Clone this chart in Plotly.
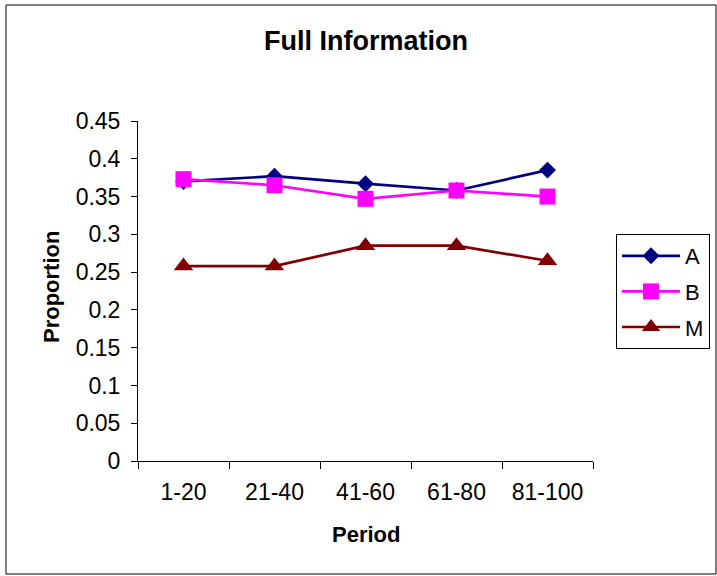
import plotly.graph_objects as go

periods = ["1-20", "21-40", "41-60", "61-80", "81-100"]
series_a = [0.370, 0.377, 0.367, 0.358, 0.385]
series_b = [0.373, 0.365, 0.347, 0.358, 0.350]
series_m = [0.258, 0.258, 0.285, 0.285, 0.265]
y_ticks = [0, 0.05, 0.1, 0.15, 0.2, 0.25, 0.3, 0.35, 0.4, 0.45]
y_tick_labels = ["0", "0.05", "0.1", "0.15", "0.2", "0.25", "0.3", "0.35", "0.4", "0.45"]

FONT = "Liberation Sans, Arial, sans-serif"

# plot area in pixels
L, R, T, B = 138, 593, 121, 461
W, H = 717, 576
PW, PH = R - L, B - T

def px(x):
    return (x - L) / PW

def py(y):
    return (B - y) / PH

fig = go.Figure()
fig.add_trace(go.Scatter(x=periods, y=series_a, name="A", mode="lines+markers",
                         legendgroup="a",
                         line=dict(color="#000080", width=2.7),
                         marker=dict(symbol="diamond", size=13, color="#000080")))
fig.add_trace(go.Scatter(x=periods, y=series_b, name="B", mode="lines+markers",
                         legendgroup="b",
                         line=dict(color="#FF00FF", width=2.7),
                         marker=dict(symbol="square", size=16, color="#FF00FF")))
fig.add_trace(go.Scatter(x=periods, y=series_m, name="M", mode="lines+markers",
                         legendgroup="m",
                         line=dict(color="#800000", width=2.7),
                         marker=dict(symbol="triangle-up", size=17, color="#800000")))

fig.update_layout(
    width=W, height=H,
    margin=dict(l=L, r=W - R, t=T, b=H - B, autoexpand=False),
    paper_bgcolor="white", plot_bgcolor="white",
    font=dict(family=FONT, size=22, color="black"),
    title=dict(text="<b>Full Information</b>", x=366 / W, xanchor="center",
               xref="container", yref="container",
               y=1 - 41 / H, yanchor="middle", font=dict(size=27, family=FONT)),
    legend=dict(x=px(616), y=py(234), xanchor="left", yanchor="top",
                bordercolor="black", borderwidth=1, bgcolor="white",
                font=dict(size=22, family=FONT), tracegroupgap=4,
                itemwidth=58),
    showlegend=True,
    shapes=[dict(type="rect", xref="paper", yref="paper",
                 x0=px(6), x1=px(716), y0=py(574), y1=py(5),
                 line=dict(color="black", width=1))],
    annotations=[
        dict(text="<b>Period</b>", xref="paper", yref="paper",
             x=px(366), y=py(534), xanchor="center", yanchor="middle",
             showarrow=False, font=dict(size=22, family=FONT)),
        dict(text="<b>Proportion</b>", xref="paper", yref="paper",
             x=px(51), y=py(287), xanchor="center", yanchor="middle",
             textangle=-90, showarrow=False, font=dict(size=22, family=FONT)),
    ],
)

fig.update_xaxes(
    type="category", range=[-0.5, 4.5],
    showline=True, linecolor="#000000", linewidth=1,
    ticks="outside", ticklen=7, tickcolor="#000000", tickson="boundaries",
    showgrid=False, zeroline=False, ticklabelstandoff=10,
    tickfont=dict(size=23, family=FONT),
)
fig.update_yaxes(
    range=[0, 0.45], tickvals=y_ticks, ticktext=y_tick_labels,
    showline=True, linecolor="#000000", linewidth=1,
    ticks="outside", ticklen=6, tickcolor="#000000",
    showgrid=False, zeroline=False, ticklabelstandoff=6,
    tickfont=dict(size=23, family=FONT),
)

fig.write_html("out.html", config={"displayModeBar": False},
               post_script="document.body.style.margin='0px';document.body.style.overflow='hidden';")
